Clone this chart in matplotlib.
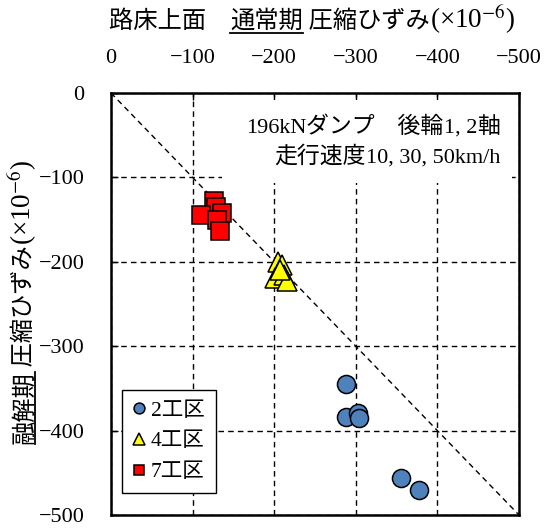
import matplotlib
matplotlib.use("Agg")
import matplotlib.pyplot as plt
from matplotlib.lines import Line2D
from matplotlib.patches import Rectangle

# ---- data (compressive strain, x1e-6) ----
ticks = [0, -100, -200, -300, -400, -500]

normal_2 = [-288, -288, -303, -304, -356, -378]
thaw_2 = [-345, -384, -379, -385, -456, -470]

normal_4 = [-205, -210, -201, -212, -216, -207]
thaw_4 = [-200, -204, -219, -216, -223, -210]

normal_7 = [-126, -129, -136, -110, -130, -134]
thaw_7 = [-128, -135, -142, -144, -151, -163]

equal_line = [0, -500]

labels = ["2工区", "4工区", "7工区"]

W, H = 549, 528
SERIF = ["Liberation Serif", "Noto Sans CJK JP"]
CJK = ["Noto Sans CJK JP", "Liberation Serif"]
plt.rcParams["font.family"] = SERIF
plt.rcParams["mathtext.fontset"] = "stix"
plt.rcParams["axes.unicode_minus"] = True

fig = plt.figure(figsize=(W / 100, H / 100), dpi=100)


def fx(px):
    return px / W


def fy(py):
    return 1 - py / H


ax = fig.add_axes([fx(111), fy(515), 408 / W, 422 / H])
ax.set_xlim(0, -500)
ax.set_ylim(-500, 0)
ax.set_xticks(ticks)
ax.set_yticks(ticks)
ax.xaxis.tick_top()
ax.tick_params(axis="x", direction="in", length=5, width=1, labelsize=16, pad=18,
               top=True, bottom=False)
ax.tick_params(axis="y", direction="in", length=5, width=1, labelsize=16, pad=19,
               left=True, right=False)
ax.set_axisbelow(True)
ax.grid(True, color="black", linestyle=(0, (4, 3)), linewidth=1.0)
for sp in ax.spines.values():
    sp.set_linewidth(1.8)

# 1:1 reference line
ax.plot(equal_line, equal_line, color="black", linewidth=1.0,
        linestyle=(0, (4, 3)), zorder=1)

# white panel behind the note
note_box = Rectangle((222, H - 183), 512 - 222, 183 - 100, transform=None,
                     facecolor="white", edgecolor="none", zorder=1.5)
ax.add_artist(note_box)

ax.plot(normal_2, thaw_2, "o", ms=13, mfc="#4F81BD", mec="black", mew=1.1,
        ls="none", label=labels[0], zorder=3)
ax.plot(normal_4, thaw_4, "^", ms=14.5, mfc="#FFFF00", mec="black", mew=1.1,
        ls="none", label=labels[1], zorder=3)
ax.plot(normal_7, thaw_7, "s", ms=12.5, mfc="#FF0000", mec="black", mew=1.1,
        ls="none", label=labels[2], zorder=3)

leg = ax.legend(loc="lower left", bbox_to_anchor=(0.027, 0.052), frameon=True,
                fancybox=False, edgecolor="black", framealpha=1,
                markerscale=0.6, handlelength=0.6, handletextpad=0.25,
                labelspacing=0.5, borderpad=0.5, borderaxespad=0,
                prop={"family": SERIF, "size": 15.5})
leg.get_frame().set_linewidth(1.0)
leg.set_zorder(5)

renderer = fig.canvas.get_renderer()


def runs_text(runs, anchor, start, align, vertical=False):
    """Draw consecutive text runs on one baseline.

    anchor: baseline position in pixels (y from top, or x from left if vertical)
    start:  pixel position along the line used with align ('center' or 'right')
    """
    made = []
    total = 0
    for s, size, fam, ul in runs:
        if vertical:
            t = fig.text(fx(anchor), 0.5, s, rotation=90, rotation_mode="anchor",
                         ha="left", va="baseline", fontsize=size, family=fam)
            ext = t.get_window_extent(renderer).height
        else:
            t = fig.text(0.5, fy(anchor), s, ha="left", va="baseline",
                         fontsize=size, family=fam)
            ext = t.get_window_extent(renderer).width
        made.append((t, ul, ext))
        total += ext
    pos = start - total / 2 if align == "center" else start - total
    for t, ul, ext in made:
        if vertical:
            t.set_position((fx(anchor), pos / H))
            if ul:
                fig.add_artist(Line2D([fx(anchor + 4)] * 2, [pos / H, (pos + ext) / H],
                                      color="black", linewidth=1.3))
        else:
            t.set_position((pos / W, fy(anchor)))
            if ul:
                fig.add_artist(Line2D([pos / W, (pos + ext) / W], [fy(anchor + 5)] * 2,
                                      color="black", linewidth=1.3))
        pos += ext


ts, ps = 17.5, 19.5
runs_text([("路床上面　", ts, CJK, False), ("通常期", ts, CJK, True),
           (" 圧縮ひずみ", ts, CJK, False), ("(×10$^{-6}$)", ps, SERIF, False)],
          28, 312, "center")
runs_text([("融解期", ts, CJK, True), (" 圧縮ひずみ", ts, CJK, False),
           ("(×10$^{-6}$)", ps, SERIF, False)],
          31, H - 302, "center", vertical=True)

# load and speed note
ns, nl = 16.5, 16
runs_text([("196kN", nl, SERIF, False), ("ダンプ　後輪", ns, CJK, False),
           ("1, 2", nl, SERIF, False), ("軸", ns, CJK, False)], 133, 500, "right")
runs_text([("走行速度", ns, CJK, False), ("10, 30, 50km/h", nl, SERIF, False)],
          163, 500, "right")

fig.savefig("out.png", dpi=100)
